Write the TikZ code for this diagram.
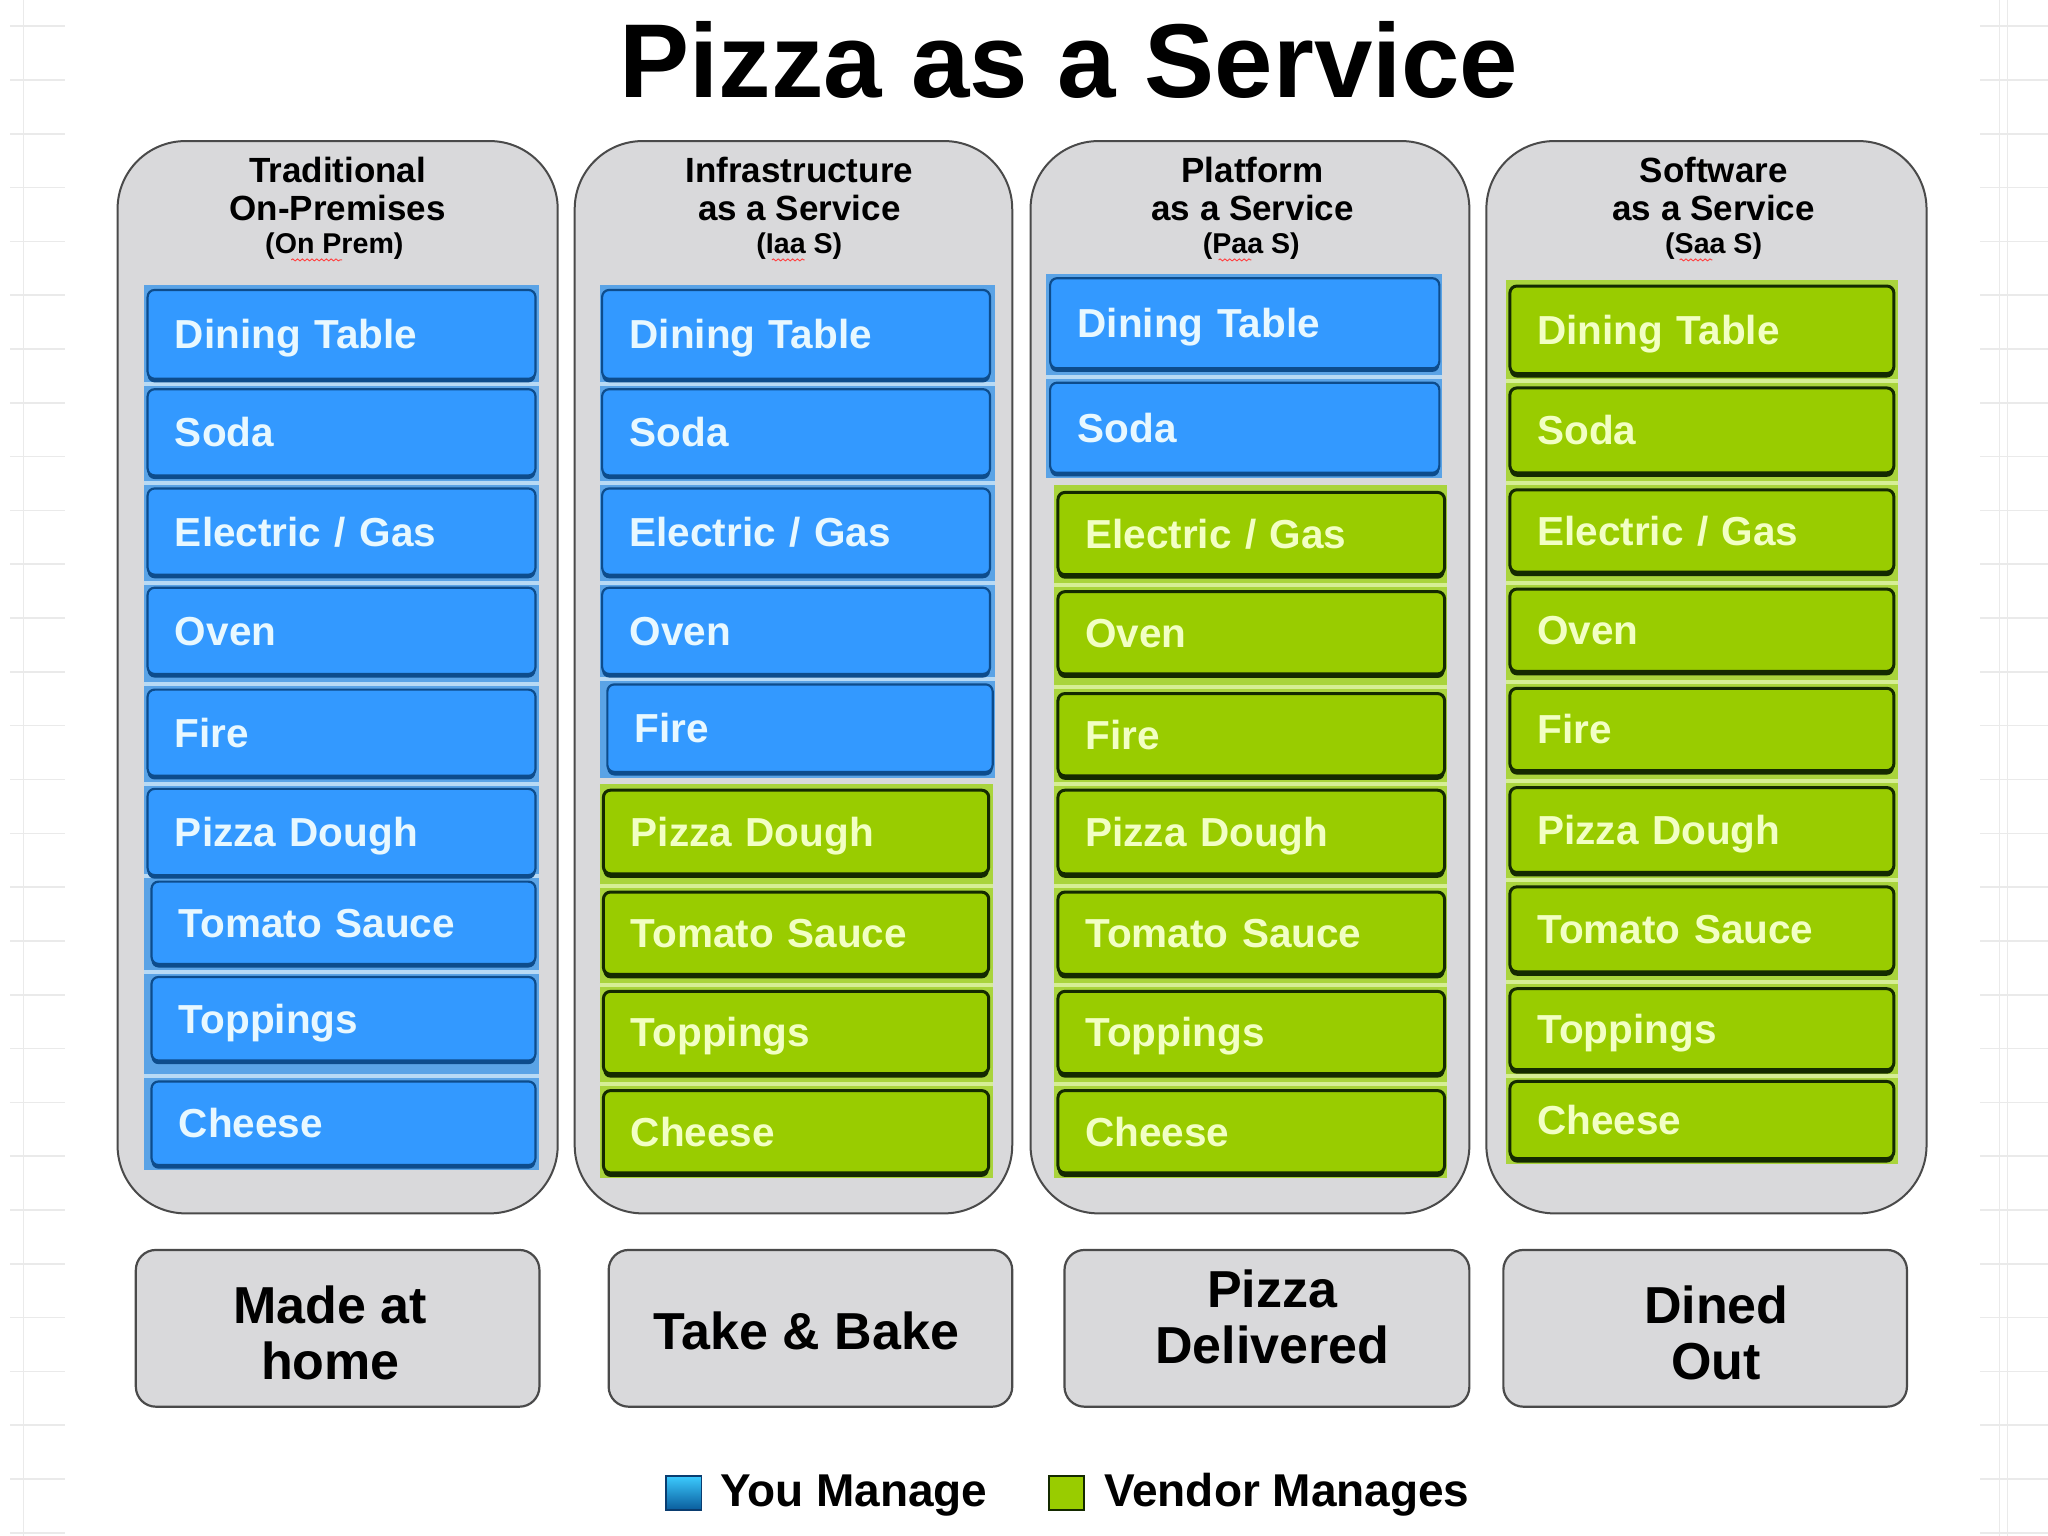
\documentclass[tikz,border=0pt]{standalone}
\usepackage{fontspec}
\setmainfont{Liberation Sans}
\usetikzlibrary{shadows,decorations.pathmorphing}
\definecolor{blueFill}{HTML}{3399FF}
\definecolor{blueEdge}{HTML}{0D4C8C}
\definecolor{blueText}{HTML}{E8F8FF}
\definecolor{blueBack}{HTML}{5AA3E6}
\definecolor{blueGap}{HTML}{B8DAF5}
\definecolor{greenFill}{HTML}{99CC00}
\definecolor{greenEdge}{HTML}{142A00}
\definecolor{greenText}{HTML}{F2FFC4}
\definecolor{greenBack}{HTML}{A9D43C}
\definecolor{greenGap}{HTML}{D6EE96}
\definecolor{panelFill}{HTML}{D9D9DB}
\definecolor{panelEdge}{HTML}{4A4A4A}
\definecolor{gridLine}{HTML}{EAEAEA}
\definecolor{legBlueTop}{HTML}{3CCBFF}
\definecolor{legBlueBot}{HTML}{0A5C9C}

\newcommand\ibox[7]{%
  \pgfmathsetmacro\ibw{(#5-#3)*0.6531}%
  \pgfmathsetmacro\ibh{(#6-#4)*0.6531}%
  \pgfmathsetmacro\ibt{\ibw-27.4}%
  \node[#2, anchor=north west, minimum width=\ibw pt, minimum height=\ibh pt, text width=\ibt pt] (#1) at (#3,#4) {#7};}
\newcommand\pnode[6]{%
  \pgfmathsetmacro\ibw{(#5-#3)*0.6531}%
  \pgfmathsetmacro\ibh{(#6-#4)*0.6531}%
  \node[#2, anchor=north west, minimum width=\ibw pt, minimum height=\ibh pt] (#1) at (#3,#4) {};}
\newcommand\gapline[4]{\draw[#4, line width=2pt] (#1,#3) -- (#2,#3);}

\begin{document}
\begin{tikzpicture}[x=0.6531pt,y=-0.6531pt,
  panel/.style={rectangle, rounded corners=34pt, fill=panelFill, draw=panelEdge, line width=1pt, outer sep=0pt},
  endbox/.style={rectangle, rounded corners=10pt, fill=panelFill, draw=panelEdge, line width=1.1pt, outer sep=0pt},
  boxbase/.style={rectangle, rounded corners=3.5pt, line width=1.1pt, font=\fontsize{20.25}{24}\selectfont\bfseries,
    inner xsep=13.7pt, inner ysep=2pt, text height=14.5pt, text depth=0pt, align=left, outer sep=0pt},
  bluebox/.style={boxbase, fill=blueFill, draw=blueEdge, text=blueText,
    drop shadow={shadow xshift=0pt, shadow yshift=-1.8pt, fill=blueEdge, opacity=1}},
  greenbox/.style={boxbase, fill=greenFill, draw=greenEdge, line width=1.5pt, text=greenText,
    drop shadow={shadow xshift=0pt, shadow yshift=-2pt, fill=greenEdge, opacity=1}},
  hdrA/.style={anchor=base, font=\fontsize{17.5}{19}\selectfont\bfseries, inner sep=0pt},
  hdrB/.style={anchor=base, font=\fontsize{14.3}{16}\selectfont\bfseries, inner sep=0pt},
  endtext/.style={align=center, font=\fontsize{26}{28.1}\selectfont\bfseries, inner sep=0pt},
  legtext/.style={anchor=base west, font=\fontsize{23}{26}\selectfont\bfseries, inner sep=0pt},
  squig/.style={draw=red!75, line width=0.45pt, decorate, decoration={snake, amplitude=0.5pt, segment length=2.4pt}}
]
\useasboundingbox (0,0) rectangle (1568,1176);
\fill[white] (0,0) rectangle (1568,1176);

% faint background grid at the edges
\draw[gridLine, line width=0.8pt] (18,0) -- (18,1176);
\draw[gridLine, line width=0.8pt] (1531,0) -- (1531,1176);
\draw[gridLine, line width=0.6pt] (1537,0) -- (1537,1176);
\foreach \k in {0,...,28} {
  \draw[gridLine, line width=0.8pt] (8,20+41.2*\k) -- (50,20+41.2*\k);
  \draw[gridLine, line width=0.8pt] (1516,20+41.2*\k) -- (1568,20+41.2*\k);
}

% title
\node[anchor=base, font=\fontsize{52.5}{60}\selectfont\bfseries, inner sep=0pt] (title) at (818.5,75) {Pizza as a Service};

% panels
\pnode{p1}{panel}{90}{108}{427}{929}
\pnode{p2}{panel}{440}{108}{775}{929}
\pnode{p3}{panel}{789}{108}{1125}{929}
\pnode{p4}{panel}{1138}{108}{1475}{929}

% headers
\node[hdrA] (h1a) at (258.5,140) {Traditional};
\node[hdrA] (h1b) at (258.5,168.5) {On-Premises};
\node[hdrB] (h1c) at (256,194) {(On Prem)};
\node[hdrA] (h2a) at (612,140) {Infrastructure};
\node[hdrA] (h2b) at (612,168.5) {as a Service};
\node[hdrB] (h2c) at (612,194) {(Iaa S)};
\node[hdrA] (h3a) at (959,140) {Platform};
\node[hdrA] (h3b) at (959,168.5) {as a Service};
\node[hdrB] (h3c) at (958,194) {(Paa S)};
\node[hdrA] (h4a) at (1312,140) {Software};
\node[hdrA] (h4b) at (1312,168.5) {as a Service};
\node[hdrB] (h4c) at (1312,194) {(Saa S)};
\draw[squig] (223,199) -- (262,199);
\draw[squig] (591,199) -- (616,199);
\draw[squig] (933,199) -- (958,199);
\draw[squig] (1286,199) -- (1311,199);

% backings
\fill[blueBack] (110,218) rectangle (413,896);
\fill[blueBack] (459,218) rectangle (762,596);
\fill[greenBack] (459,600) rectangle (760,902);
\fill[blueBack] (801,210) rectangle (1104,366);
\fill[greenBack] (807,371) rectangle (1108,902);
\fill[greenBack] (1153,214) rectangle (1453,891);

\foreach \g in {294,370,446,524,600,671,744,824} {\gapline{110}{413}{\g}{blueGap}}
\foreach \g in {294,370,446,520} {\gapline{459}{762}{\g}{blueGap}}
\foreach \g in {678,754,830} {\gapline{459}{760}{\g}{greenGap}}
\gapline{801}{1104}{289}{blueGap}
\foreach \g in {448,526,600,678,754,830} {\gapline{807}{1108}{\g}{greenGap}}
\foreach \g in {292,370,446,522,598,674,752,824} {\gapline{1153}{1453}{\g}{greenGap}}

% column 1
\ibox{a1}{bluebox}{113}{222}{410}{290}{Dining Table}
\ibox{a2}{bluebox}{113}{298}{410}{364}{Soda}
\ibox{a3}{bluebox}{113}{374}{410}{440}{Electric / Gas}
\ibox{a4}{bluebox}{113}{450}{410}{516}{Oven}
\ibox{a5}{bluebox}{113}{528}{410}{594}{Fire}
\ibox{a6}{bluebox}{113}{604}{410}{670}{Pizza Dough}
\ibox{a7}{bluebox}{116}{675}{410}{738}{Tomato Sauce}
\ibox{a8}{bluebox}{116}{748}{410}{812}{Toppings}
\ibox{a9}{bluebox}{116}{828}{410}{892}{Cheese}

% column 2
\ibox{b1}{bluebox}{461}{222}{758}{290}{Dining Table}
\ibox{b2}{bluebox}{461}{298}{758}{364}{Soda}
\ibox{b3}{bluebox}{461}{374}{758}{440}{Electric / Gas}
\ibox{b4}{bluebox}{461}{450}{758}{516}{Oven}
\ibox{b5}{bluebox}{465}{524}{760}{591}{Fire}
\ibox{b6}{greenbox}{462}{605}{757}{669}{Pizza Dough}
\ibox{b7}{greenbox}{462}{683}{757}{746}{Tomato Sauce}
\ibox{b8}{greenbox}{462}{759}{757}{822}{Toppings}
\ibox{b9}{greenbox}{462}{835}{757}{898}{Cheese}

% column 3
\ibox{c1}{bluebox}{804}{213}{1102}{282}{Dining Table}
\ibox{c2}{bluebox}{804}{293}{1102}{362}{Soda}
\ibox{c3}{greenbox}{810}{377}{1106}{440}{Electric / Gas}
\ibox{c4}{greenbox}{810}{453}{1106}{516}{Oven}
\ibox{c5}{greenbox}{810}{531}{1106}{594}{Fire}
\ibox{c6}{greenbox}{810}{605}{1106}{669}{Pizza Dough}
\ibox{c7}{greenbox}{810}{683}{1106}{746}{Tomato Sauce}
\ibox{c8}{greenbox}{810}{759}{1106}{822}{Toppings}
\ibox{c9}{greenbox}{810}{835}{1106}{898}{Cheese}

% column 4
\ibox{d1}{greenbox}{1156}{219}{1450}{286}{Dining Table}
\ibox{d2}{greenbox}{1156}{297}{1450}{362}{Soda}
\ibox{d3}{greenbox}{1156}{375}{1450}{438}{Electric / Gas}
\ibox{d4}{greenbox}{1156}{451}{1450}{514}{Oven}
\ibox{d5}{greenbox}{1156}{527}{1450}{590}{Fire}
\ibox{d6}{greenbox}{1156}{603}{1450}{668}{Pizza Dough}
\ibox{d7}{greenbox}{1156}{679}{1450}{744}{Tomato Sauce}
\ibox{d8}{greenbox}{1156}{757}{1450}{819}{Toppings}
\ibox{d9}{greenbox}{1156}{828}{1450}{887}{Cheese}

% bottom labels
\pnode{e1}{endbox}{104}{957}{413}{1077}
\pnode{e2}{endbox}{466}{957}{775}{1077}
\pnode{e3}{endbox}{815}{957}{1125}{1077}
\pnode{e4}{endbox}{1151}{957}{1460}{1077}
\node[endtext] (t1) at (253,1020.5) {Made at\\home};
\node[endtext] (t2) at (617.5,1019) {Take \& Bake};
\node[endtext] (t3) at (974,1008.5) {Pizza\\Delivered};
\node[endtext] (t4) at (1314,1020.5) {Dined\\Out};

% legend
\node[rectangle, anchor=north west, minimum width=17.6pt, minimum height=17pt, inner sep=0pt, outer sep=0pt,
  top color=legBlueTop, bottom color=legBlueBot, draw=blueEdge!80!black, line width=0.8pt] (lb) at (510,1130) {};
\node[legtext] (lt1) at (551,1153.5) {You Manage};
\node[rectangle, anchor=north west, minimum width=17.6pt, minimum height=17pt, inner sep=0pt, outer sep=0pt,
  fill=greenFill, draw=greenEdge, line width=1.1pt] (lg) at (803,1130) {};
\node[legtext] (lt2) at (845,1153.5) {Vendor Manages};
\end{tikzpicture}
\end{document}
